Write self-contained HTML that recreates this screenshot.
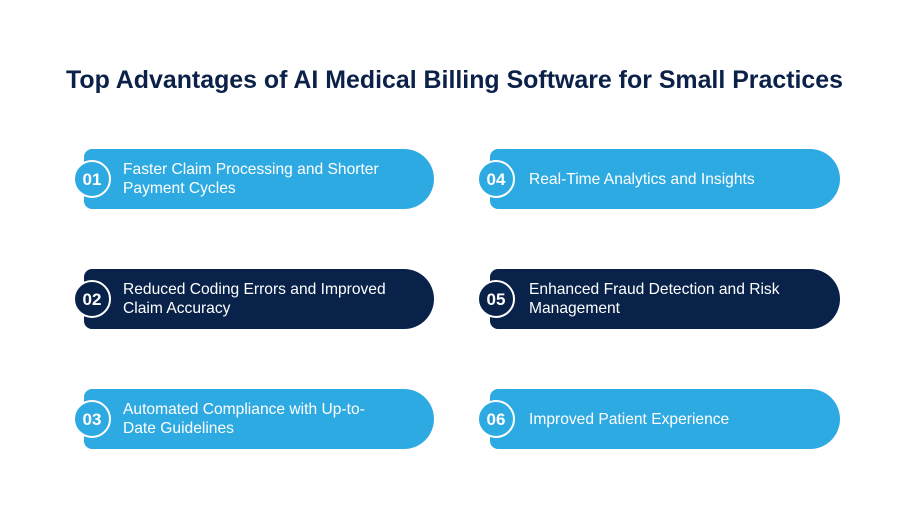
<!DOCTYPE html>
<html><head><meta charset="utf-8"><style>
body{margin:0;width:910px;height:510px;background:#fff;overflow:hidden;position:relative;font-family:"Liberation Sans",sans-serif}
.pill{position:absolute;width:350px;height:60px;border-radius:8px 30px 30px 8px;color:#fff;font-size:15.6px;line-height:19px;display:flex;align-items:center;box-sizing:border-box;padding-left:39px}
.c{position:absolute;left:-11px;top:11px;width:34px;height:34px;border-radius:50%;border:2px solid #fff;display:flex;align-items:center;justify-content:center;font-size:17px;font-weight:bold;color:#fff}
.l{background:#2eaae2}.d{background:#08224a}
.l .c{background:#2eaae2}.d .c{background:#08224a}
</style></head><body>
<svg width="910" height="120" style="position:absolute;left:0;top:0"><text x="66" y="88" textLength="777" lengthAdjust="spacingAndGlyphs" font-family="Liberation Sans" font-weight="bold" font-size="25" fill="#0b2149">Top Advantages of AI Medical Billing Software for Small Practices</text></svg>
<div class="pill l" style="left:84px;top:149px"><div class="c">01</div>Faster Claim Processing and Shorter<br>Payment Cycles</div>
<div class="pill d" style="left:84px;top:269px"><div class="c">02</div>Reduced Coding Errors and Improved<br>Claim Accuracy</div>
<div class="pill l" style="left:84px;top:389px"><div class="c">03</div>Automated Compliance with Up-to-<br>Date Guidelines</div>
<div class="pill l" style="left:490px;top:149px"><div class="c" style="left:-13px">04</div>Real-Time Analytics and Insights</div>
<div class="pill d" style="left:490px;top:269px"><div class="c" style="left:-13px">05</div>Enhanced Fraud Detection and Risk<br>Management</div>
<div class="pill l" style="left:490px;top:389px"><div class="c" style="left:-13px">06</div>Improved Patient Experience</div>
</body></html>
